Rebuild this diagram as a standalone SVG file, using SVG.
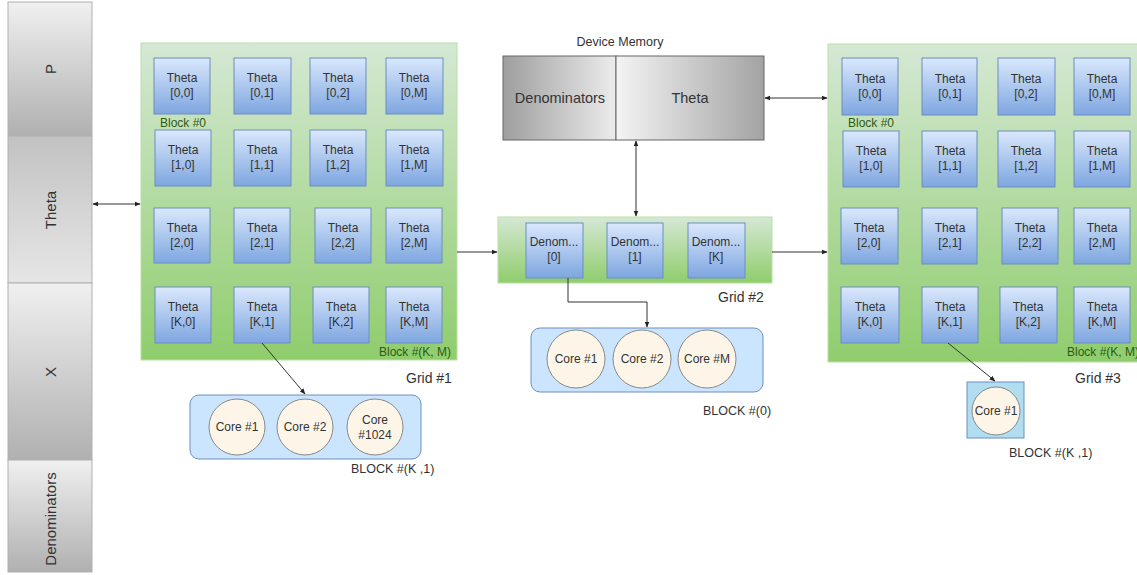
<svg xmlns="http://www.w3.org/2000/svg" width="1137" height="575" viewBox="0 0 1137 575">
<defs>
<linearGradient id="gGray" x1="0" y1="0" x2="0" y2="1"><stop offset="0" stop-color="#f0f0f0"/><stop offset="1" stop-color="#b0b0b0"/></linearGradient>
<linearGradient id="gGrayR" x1="0" y1="0" x2="0" y2="1"><stop offset="0" stop-color="#c2c2c2"/><stop offset="1" stop-color="#e6e6e6"/></linearGradient>
<linearGradient id="gMemL" x1="0" y1="0" x2="1" y2="0"><stop offset="0" stop-color="#9e9e9e"/><stop offset="1" stop-color="#ececec"/></linearGradient>
<linearGradient id="gMemR" x1="0" y1="0" x2="1" y2="0"><stop offset="0" stop-color="#f4f4f4"/><stop offset="1" stop-color="#a3a3a3"/></linearGradient>
<linearGradient id="gGreen" x1="0" y1="0" x2="0" y2="1"><stop offset="0" stop-color="#d5e8d4"/><stop offset="1" stop-color="#8fcd6c"/></linearGradient>
<linearGradient id="gBlue" x1="0" y1="0" x2="0" y2="1"><stop offset="0" stop-color="#dae8fc"/><stop offset="1" stop-color="#7ea6e0"/></linearGradient>
<marker id="ah" viewBox="0 0 10 10" refX="9" refY="5" markerWidth="6" markerHeight="6" orient="auto-start-reverse"><path d="M0,1 L10,5 L0,9 Z" fill="#222"/></marker>
</defs>
<style>
.strip{stroke:#b0b0b0;stroke-width:1}
.grid{fill:url(#gGreen);stroke:#b9e0a5;stroke-width:1}
.cell{fill:url(#gBlue);stroke:#6c8ebf;stroke-width:1}
.t{font-family:"Liberation Sans",Arial,sans-serif;fill:#333;text-anchor:middle}
.c{font-size:12px}
.s{font-size:15px}
.bl{font-family:"Liberation Sans",Arial,sans-serif;font-size:12px;fill:#2d5a14}
.gl{font-family:"Liberation Sans",Arial,sans-serif;font-size:14px;fill:#333}
.sl{font-family:"Liberation Sans",Arial,sans-serif;font-size:12.5px;fill:#333}
.cb{fill:#cce5ff;stroke:#6c8ebf;stroke-width:1}
.core{fill:#fdf6e8;stroke:#888;stroke-width:1}
.conn{fill:none;stroke:#333;stroke-width:1}
</style>

<g id="strip">
<rect x="8" y="2" width="84" height="134" fill="url(#gGray)" class="strip"/>
<rect x="8" y="136" width="84" height="147" fill="url(#gGrayR)" class="strip"/>
<rect x="8" y="283" width="84" height="177" fill="url(#gGray)" class="strip"/>
<rect x="8" y="460" width="84" height="112" fill="url(#gGray)" class="strip"/>
<text class="t s" transform="translate(56,69) rotate(-90)">P</text>
<text class="t s" transform="translate(56,210) rotate(-90)">Theta</text>
<text class="t s" transform="translate(56,372) rotate(-90)">X</text>
<text class="t s" transform="translate(56,519) rotate(-90)">Denominators</text>
</g>

<g id="grid1">
<rect class="grid" x="141" y="43" width="316" height="317"/>
<rect class="cell" x="154" y="58" width="56" height="56"/><text class="t c" x="182" y="82">Theta</text><text class="t c" x="182" y="97">[0,0]</text>
<rect class="cell" x="234" y="58" width="57" height="56"/><text class="t c" x="262" y="82">Theta</text><text class="t c" x="262" y="97">[0,1]</text>
<rect class="cell" x="310" y="58" width="56" height="56"/><text class="t c" x="338" y="82">Theta</text><text class="t c" x="338" y="97">[0,2]</text>
<rect class="cell" x="386" y="58" width="57" height="56"/><text class="t c" x="414" y="82">Theta</text><text class="t c" x="414" y="97">[0,M]</text>
<text class="bl" x="160" y="127">Block #0</text>
<rect class="cell" x="155" y="130" width="56" height="56"/><text class="t c" x="183" y="154">Theta</text><text class="t c" x="183" y="169">[1,0]</text>
<rect class="cell" x="234" y="130" width="57" height="56"/><text class="t c" x="262" y="154">Theta</text><text class="t c" x="262" y="169">[1,1]</text>
<rect class="cell" x="310" y="130" width="56" height="56"/><text class="t c" x="338" y="154">Theta</text><text class="t c" x="338" y="169">[1,2]</text>
<rect class="cell" x="386" y="130" width="57" height="56"/><text class="t c" x="414" y="154">Theta</text><text class="t c" x="414" y="169">[1,M]</text>
<rect class="cell" x="154" y="208" width="56" height="55"/><text class="t c" x="182" y="232">Theta</text><text class="t c" x="182" y="247">[2,0]</text>
<rect class="cell" x="234" y="208" width="56" height="55"/><text class="t c" x="262" y="232">Theta</text><text class="t c" x="262" y="247">[2,1]</text>
<rect class="cell" x="315" y="208" width="56" height="55"/><text class="t c" x="343" y="232">Theta</text><text class="t c" x="343" y="247">[2,2]</text>
<rect class="cell" x="386" y="208" width="56" height="55"/><text class="t c" x="414" y="232">Theta</text><text class="t c" x="414" y="247">[2,M]</text>
<rect class="cell" x="155" y="287" width="56" height="56"/><text class="t c" x="183" y="311">Theta</text><text class="t c" x="183" y="326">[K,0]</text>
<rect class="cell" x="234" y="287" width="56" height="56"/><text class="t c" x="262" y="311">Theta</text><text class="t c" x="262" y="326">[K,1]</text>
<rect class="cell" x="313" y="287" width="56" height="56"/><text class="t c" x="341" y="311">Theta</text><text class="t c" x="341" y="326">[K,2]</text>
<rect class="cell" x="386" y="287" width="56" height="56"/><text class="t c" x="414" y="311">Theta</text><text class="t c" x="414" y="326">[K,M]</text>
<text class="bl" x="379" y="356">Block #(K, M)</text>
<text class="gl" x="406" y="383">Grid #1</text>
</g>

<g id="block1">
<rect class="cb" x="190" y="395" width="231" height="64" rx="9"/>
<circle class="core" cx="237" cy="427" r="28"/><text class="t c" x="237" y="431">Core #1</text>
<circle class="core" cx="305" cy="427" r="28"/><text class="t c" x="305" y="431">Core #2</text>
<circle class="core" cx="375" cy="427" r="28"/><text class="t c" x="375" y="424">Core</text><text class="t c" x="375" y="439">#1024</text>
<text class="sl" x="351" y="473">BLOCK #(K ,1)</text>
</g>

<g id="memory">
<text class="t" font-size="12.5" x="620" y="46">Device Memory</text>
<rect x="503" y="56" width="113" height="84" fill="url(#gMemL)" stroke="#666"/>
<rect x="616" y="56" width="148" height="84" fill="url(#gMemR)" stroke="#666"/>
<text class="t" font-size="14.5" x="560" y="103">Denominators</text>
<text class="t" font-size="14.5" x="690" y="103">Theta</text>
</g>

<g id="grid2">
<rect class="grid" x="498" y="217" width="274" height="66"/>
<rect class="cell" x="526" y="223" width="57" height="55"/><text class="t c" x="554" y="246">Denom...</text><text class="t c" x="554" y="261">[0]</text>
<rect class="cell" x="607" y="223" width="56" height="55"/><text class="t c" x="635" y="246">Denom...</text><text class="t c" x="635" y="261">[1]</text>
<rect class="cell" x="688" y="223" width="57" height="55"/><text class="t c" x="716" y="246">Denom...</text><text class="t c" x="716" y="261">[K]</text>
<text class="gl" x="718" y="302">Grid #2</text>
</g>

<g id="block2">
<rect class="cb" x="531" y="328" width="232" height="64" rx="9"/>
<circle class="core" cx="576" cy="359" r="29"/><text class="t c" x="576" y="363">Core #1</text>
<circle class="core" cx="642" cy="359" r="29"/><text class="t c" x="642" y="363">Core #2</text>
<circle class="core" cx="707" cy="359" r="29"/><text class="t c" x="707" y="363">Core #M</text>
<text class="sl" x="703" y="415">BLOCK #(0)</text>
</g>

<g id="grid3">
<rect class="grid" x="828" y="44" width="320" height="318"/>
<rect class="cell" x="842" y="58" width="56" height="57"/><text class="t c" x="870" y="83">Theta</text><text class="t c" x="870" y="98">[0,0]</text>
<rect class="cell" x="922" y="58" width="55" height="57"/><text class="t c" x="950" y="83">Theta</text><text class="t c" x="950" y="98">[0,1]</text>
<rect class="cell" x="998" y="58" width="57" height="57"/><text class="t c" x="1026" y="83">Theta</text><text class="t c" x="1026" y="98">[0,2]</text>
<rect class="cell" x="1074" y="58" width="56" height="57"/><text class="t c" x="1102" y="83">Theta</text><text class="t c" x="1102" y="98">[0,M]</text>
<text class="bl" x="848" y="127">Block #0</text>
<rect class="cell" x="843" y="131" width="56" height="56"/><text class="t c" x="871" y="155">Theta</text><text class="t c" x="871" y="170">[1,0]</text>
<rect class="cell" x="922" y="131" width="55" height="56"/><text class="t c" x="950" y="155">Theta</text><text class="t c" x="950" y="170">[1,1]</text>
<rect class="cell" x="998" y="131" width="57" height="56"/><text class="t c" x="1026" y="155">Theta</text><text class="t c" x="1026" y="170">[1,2]</text>
<rect class="cell" x="1074" y="131" width="56" height="56"/><text class="t c" x="1102" y="155">Theta</text><text class="t c" x="1102" y="170">[1,M]</text>
<rect class="cell" x="841" y="208" width="57" height="56"/><text class="t c" x="869" y="232">Theta</text><text class="t c" x="869" y="247">[2,0]</text>
<rect class="cell" x="922" y="208" width="55" height="56"/><text class="t c" x="950" y="232">Theta</text><text class="t c" x="950" y="247">[2,1]</text>
<rect class="cell" x="1002" y="208" width="56" height="56"/><text class="t c" x="1030" y="232">Theta</text><text class="t c" x="1030" y="247">[2,2]</text>
<rect class="cell" x="1074" y="208" width="56" height="56"/><text class="t c" x="1102" y="232">Theta</text><text class="t c" x="1102" y="247">[2,M]</text>
<rect class="cell" x="841" y="287" width="58" height="56"/><text class="t c" x="870" y="311">Theta</text><text class="t c" x="870" y="326">[K,0]</text>
<rect class="cell" x="922" y="287" width="56" height="56"/><text class="t c" x="950" y="311">Theta</text><text class="t c" x="950" y="326">[K,1]</text>
<rect class="cell" x="1000" y="287" width="57" height="56"/><text class="t c" x="1028" y="311">Theta</text><text class="t c" x="1028" y="326">[K,2]</text>
<rect class="cell" x="1074" y="287" width="56" height="56"/><text class="t c" x="1102" y="311">Theta</text><text class="t c" x="1102" y="326">[K,M]</text>
<text class="bl" x="1067" y="356">Block #(K, M)</text>
<text class="gl" x="1075" y="383">Grid #3</text>
</g>

<g id="block3">
<rect x="967" y="382" width="57" height="56" fill="#b1ddf0" stroke="#6c8ebf"/>
<circle class="core" cx="996" cy="411" r="24"/><text class="t c" x="996" y="415">Core #1</text>
<text class="sl" x="1009" y="457">BLOCK #(K ,1)</text>
</g>

<g id="connectors">
<line class="conn" x1="93" y1="204" x2="140" y2="204" marker-start="url(#ah)" marker-end="url(#ah)"/>
<line class="conn" x1="457" y1="252" x2="497" y2="252" marker-end="url(#ah)"/>
<line class="conn" x1="772" y1="252" x2="827" y2="252" marker-end="url(#ah)"/>
<line class="conn" x1="765" y1="98" x2="827" y2="98" marker-start="url(#ah)" marker-end="url(#ah)"/>
<line class="conn" x1="636" y1="141" x2="636" y2="216" marker-start="url(#ah)" marker-end="url(#ah)"/>
<polyline class="conn" points="568,278 568,302 647,302 647,327" marker-end="url(#ah)"/>
<line class="conn" x1="262" y1="343" x2="305" y2="394" marker-end="url(#ah)"/>
<line class="conn" x1="948" y1="343" x2="995" y2="381" marker-end="url(#ah)"/>
</g>
</svg>
